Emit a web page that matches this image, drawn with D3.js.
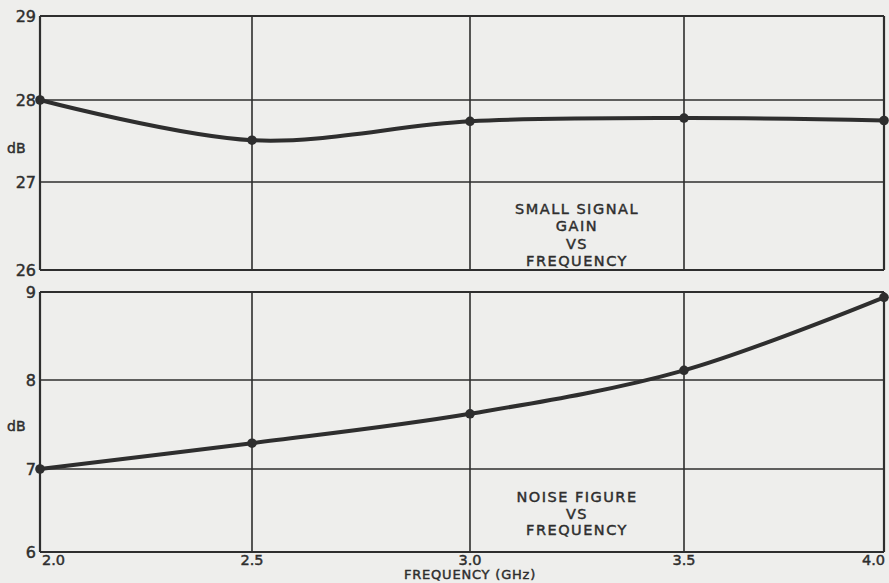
<!DOCTYPE html>
<html><head><meta charset="utf-8">
<script src="https://cdn.jsdelivr.net/npm/d3@7"></script>
<style>
html,body{margin:0;padding:0;background:#eeeeec;}
svg{display:block;}
text{font-family:"DejaVu Sans",sans-serif;fill:#2e2e2e;stroke:#2e2e2e;stroke-width:0.45px;}
</style></head>
<body>
<script>
const freq = [2.0, 2.5, 3.0, 3.5, 4.0];
const xTickLabels = ["2.0", "2.5", "3.0", "3.5", "4.0"];
const gainDb = [28.0, 27.51, 27.74, 27.78, 27.75];
const noiseDb = [7.0, 7.29, 7.62, 8.11, 8.94];
const gainTicks = [26, 27, 28, 29];
const noiseTicks = [6, 7, 8, 9];
const gainTitle = ["SMALL SIGNAL", "GAIN", "VS", "FREQUENCY"];
const noiseTitle = ["NOISE FIGURE", "VS", "FREQUENCY"];
const xTitle = "FREQUENCY (GHz)";

const W = 889, H = 583;
const svg = d3.select("body").append("svg").attr("width", W).attr("height", H);
svg.append("rect").attr("width", W).attr("height", H).attr("fill", "#eeeeec");

// the printed grid is slightly uneven, so the scales are piecewise linear
const x = d3.scaleLinear().domain(freq).range([40, 252, 470, 684, 884]);
const ink = "#2e2e2e";

function panel(ticks, yRange, data, title, titleY, titleStep, dbY) {
  const y = d3.scaleLinear().domain(ticks).range(yRange);
  const g = svg.append("g");
  const yTop = y(ticks[ticks.length - 1]), yBot = y(ticks[0]);
  g.selectAll("line.v").data(freq).enter().append("line")
    .attr("x1", d => x(d)).attr("x2", d => x(d))
    .attr("y1", yTop).attr("y2", yBot)
    .attr("stroke", ink).attr("stroke-width", (d,i) => (i===0||i===freq.length-1) ? 2.2 : 1.6);
  g.selectAll("line.h").data(ticks).enter().append("line")
    .attr("x1", x(2.0)).attr("x2", x(4.0))
    .attr("y1", d => y(d)).attr("y2", d => y(d))
    .attr("stroke", ink).attr("stroke-width", (d,i) => (i===0||i===ticks.length-1) ? 2.2 : 1.6);
  g.selectAll("text.yt").data(ticks).enter().append("text")
    .attr("x", 36).attr("y", d => y(d) + 6)
    .attr("text-anchor", "end").attr("font-size", 16)
    .text(d => d);
  g.append("text").attr("x", 7).attr("y", dbY).attr("font-size", 14).text("dB");
  const line = d3.line().x((d,i) => x(freq[i])).y(d => y(d)).curve(d3.curveCatmullRom.alpha(0.5));
  g.append("path").datum(data).attr("d", line).attr("fill", "none")
    .attr("stroke", ink).attr("stroke-width", 4).attr("stroke-linejoin", "round");
  g.selectAll("circle").data(data).enter().append("circle")
    .attr("cx", (d,i) => x(freq[i])).attr("cy", d => y(d)).attr("r", 4.8).attr("fill", ink);
  g.selectAll("text.tt").data(title).enter().append("text")
    .attr("x", 577).attr("y", (d,i) => titleY + i * titleStep)
    .attr("text-anchor", "middle").attr("font-size", 14.5)
    .attr("letter-spacing", 1.5).text(d => d);
  return y;
}

panel(gainTicks, [270, 182, 100, 16], gainDb, gainTitle, 214, 17.3, 153);
panel(noiseTicks, [552, 469, 380, 292], noiseDb, noiseTitle, 502, 16.7, 431);

svg.selectAll("text.xt").data(freq).enter().append("text")
  .attr("x", (d,i) => i===0 ? x(d)+2 : (i===freq.length-1 ? x(d)+1 : x(d)))
  .attr("y", 565)
  .attr("text-anchor", (d,i) => i===0 ? "start" : (i===freq.length-1 ? "end" : "middle"))
  .attr("font-size", 14.5)
  .text((d,i) => xTickLabels[i]);
svg.append("text").attr("x", 470).attr("y", 579).attr("text-anchor", "middle")
  .attr("font-size", 13).attr("letter-spacing", 0.8)
  .text(xTitle);
</script>
</body></html>
